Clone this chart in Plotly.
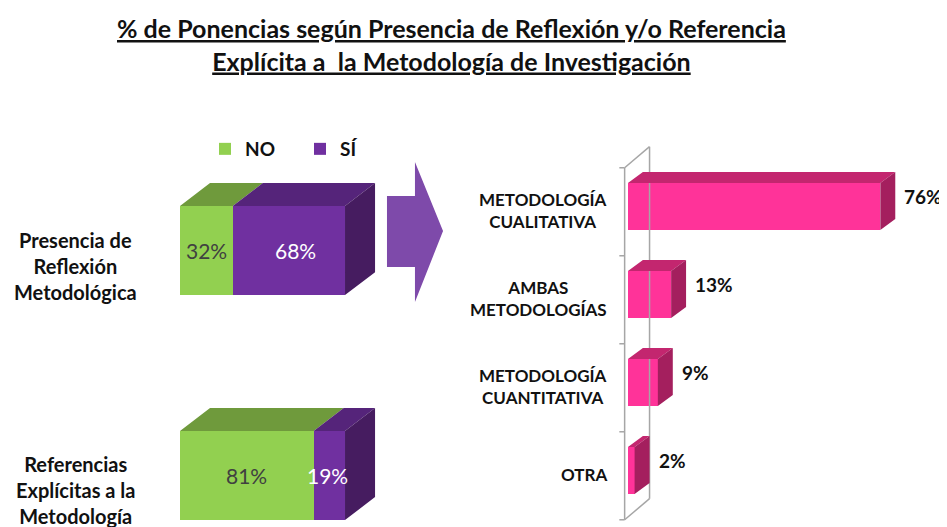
import plotly.graph_objects as go

# left chart: presence of methodological reflection / explicit references
left_cats = ["Presencia de<br>Reflexión<br>Metodológica",
             "Referencias<br>Explícitas a la<br>Metodología"]
left_no = [32, 81]
left_si = [68, 19]

# right chart: type of methodology
right_cats = ["METODOLOGÍA<br>CUALITATIVA", "AMBAS<br>METODOLOGÍAS",
              "METODOLOGÍA<br>CUANTITATIVA", "OTRA"]
right_vals = [76, 13, 9, 2]

# the page body keeps an 8px margin, so the figure is sized to fill the rest
OFF = 8
W, H = 947 - OFF, 527 - OFF
FONT = "Lato"

GREEN, GREEN_TOP = "#92D050", "#6F9A3C"
PURPLE, PURPLE_TOP, PURPLE_SIDE = "#7030A0", "#55247A", "#461C60"
PINK, PINK_TOP, PINK_SIDE = "#FF3399", "#C3266F", "#A41F5E"


def px(x):
    return (x - OFF) / W


def py(y):
    return 1 - (y - OFF) / H


def top_face(x0, x1, yc, w, dx, dy):
    yt = yc - w / 2
    return [x0, x1, x1 + dx, x0 + dx, x0, None], [yt, yt, yt - dy, yt - dy, yt, None]


def side_face(x1, yc, w, dx, dy):
    yt, yb = yc - w / 2, yc + w / 2
    return [x1, x1 + dx, x1 + dx, x1, x1, None], [yt, yt - dy, yb - dy, yb, yt, None]


def poly_trace(xs, ys, color, xa, ya):
    return go.Scatter(x=xs, y=ys, mode="lines", fill="toself", fillcolor=color,
                      line=dict(width=0, color=color), hoverinfo="skip",
                      showlegend=False, xaxis=xa, yaxis=ya)


fig = go.Figure()

# ---- left stacked bars (front faces + faux 3D depth) ----
lw, ldx, ldy = 0.396, 18.2, 0.102
ly = list(range(len(left_cats)))
gx, gy, sx, sy, rx, ry = [], [], [], [], [], []
for i, (n, s) in enumerate(zip(left_no, left_si)):
    a, b = top_face(0, n, i, lw, ldx, ldy)
    gx += a; gy += b
    a, b = top_face(n, n + s, i, lw, ldx, ldy)
    sx += a; sy += b
    a, b = side_face(n + s, i, lw, ldx, ldy)
    rx += a; ry += b
fig.add_trace(poly_trace(gx, gy, GREEN_TOP, "x", "y"))
fig.add_trace(poly_trace(sx, sy, PURPLE_TOP, "x", "y"))
fig.add_trace(poly_trace(rx, ry, PURPLE_SIDE, "x", "y"))

fig.add_trace(go.Bar(x=left_no, y=ly, orientation="h", width=lw, name="<b>NO</b>",
                     marker=dict(color=GREEN, line=dict(width=0)),
                     hoverinfo="skip", xaxis="x", yaxis="y"))
fig.add_trace(go.Bar(x=left_si, y=ly, base=left_no, orientation="h", width=lw,
                     name="<b>SÍ</b>", marker=dict(color=PURPLE, line=dict(width=0)),
                     hoverinfo="skip", xaxis="x", yaxis="y"))

# ---- right bars ----
rw, rdx, rdy = 0.534, 4.5, 0.125
ryv = list(range(len(right_cats)))
tx, tyy, kx, ky = [], [], [], []
for i, v in enumerate(right_vals):
    a, b = top_face(0, v, i, rw, rdx, rdy)
    tx += a; tyy += b
    a, b = side_face(v, i, rw, rdx, rdy)
    kx += a; ky += b

# back wall / axis of the 3D chart
n = len(right_cats)
wall_front, wall_back, wall_dy = -1, 6.5, 0.24
y0, y1 = -0.44, n - 0.44
wx = [wall_front, wall_front, None, wall_back, wall_back, None,
      wall_front, wall_back, None, wall_front, wall_back, None]
wy = [y0, y1, None, y0 - wall_dy, y1 - wall_dy, None,
      y0, y0 - wall_dy, None, y1, y1 - wall_dy, None]
for k in range(n + 1):
    wx += [wall_front - 1.6, wall_front, None]
    wy += [y0 + k, y0 + k, None]
fig.add_trace(go.Scatter(x=wx, y=wy, mode="lines", line=dict(color="#A6A6A6", width=1.5),
                         hoverinfo="skip", showlegend=False, xaxis="x2", yaxis="y2"))

fig.add_trace(poly_trace(tx, tyy, PINK_TOP, "x2", "y2"))
fig.add_trace(poly_trace(kx, ky, PINK_SIDE, "x2", "y2"))
fig.add_trace(go.Bar(x=right_vals, y=ryv, orientation="h", width=rw,
                     marker=dict(color=PINK, line=dict(width=0)), showlegend=False,
                     hoverinfo="skip", xaxis="x2", yaxis="y2"))

# ---- annotations ----
ann = [dict(text="<u><b>% de Ponencias según Presencia de Reflexión y/o Referencia<br>"
                 "Explícita a  la Metodología de Investigación</b></u>",
            xref="paper", yref="paper", x=px(451), y=py(45), xanchor="center",
            yanchor="middle", showarrow=False, align="center",
            font=dict(family=FONT, size=25, color="#111111"))]

for i, c in enumerate(left_cats):
    ann.append(dict(text=f"<b>{c}</b>", xref="paper", yref="y", x=px(75), y=i,
                    yshift=-15, xanchor="center", yanchor="middle", align="center",
                    showarrow=False, font=dict(family=FONT, size=20, color="#111111")))
    ann.append(dict(text=f"{left_no[i]}%", xref="x", yref="y", x=left_no[i] / 2, y=i,
                    showarrow=False, font=dict(family=FONT, size=21, color="#404040")))
    ann.append(dict(text=f"{left_si[i]}%", xref="x", yref="y",
                    x=left_no[i] + left_si[i] / 2 + (4 if left_si[i] > 40 else -1), y=i,
                    showarrow=False, font=dict(family=FONT, size=21, color="white")))

for i, c in enumerate(right_cats):
    ann.append(dict(text=f"<b>{c}</b>", xref="paper", yref="y2", x=px(609), y=i,
                    yshift=-4, xanchor="right", yanchor="middle", align="center",
                    showarrow=False, font=dict(family=FONT, size=17, color="#111111")))
    ann.append(dict(text=f"<b>{right_vals[i]}%</b>", xref="x2", yref="y2",
                    x=right_vals[i] + rdx, y=i, xanchor="left", yanchor="middle",
                    xshift=7, yshift=10, showarrow=False,
                    font=dict(family=FONT, size=19, color="#111111")))

# big arrow between the two charts
ax = [387, 415, 415, 443, 415, 415, 387]
ay = [196, 196, 162, 231, 302, 267, 267]
path = "M " + " L ".join(f"{px(a):.4f},{py(b):.4f}" for a, b in zip(ax, ay)) + " Z"

fig.update_layout(
    width=W, height=H,
    margin=dict(l=0, r=0, t=0, b=0),
    paper_bgcolor="white", plot_bgcolor="rgba(0,0,0,0)",
    barmode="stack", bargap=0,
    showlegend=True,
    legend=dict(orientation="h", x=px(205), y=py(130), xanchor="left", yanchor="top",
                traceorder="normal", entrywidth=50, entrywidthmode="pixels",
                font=dict(family=FONT, size=19, color="#111111"),
                bgcolor="rgba(0,0,0,0)"),
    xaxis=dict(domain=[px(180), px(380)], range=[0, 121.2], visible=False, fixedrange=True),
    yaxis=dict(domain=[0, py(130)], range=[1.229, -0.536], visible=False, fixedrange=True),
    xaxis2=dict(domain=[px(618), 1], range=[-3, 96.08], visible=False, anchor="y2"),
    yaxis2=dict(domain=[0, py(130)], range=[3.642, -0.869], visible=False, anchor="x2"),
    annotations=ann,
    shapes=[dict(type="path", path=path, xref="paper", yref="paper",
                 fillcolor="#7E4AAA", line=dict(width=0), layer="below")],
)

fig.write_html("out.html")
